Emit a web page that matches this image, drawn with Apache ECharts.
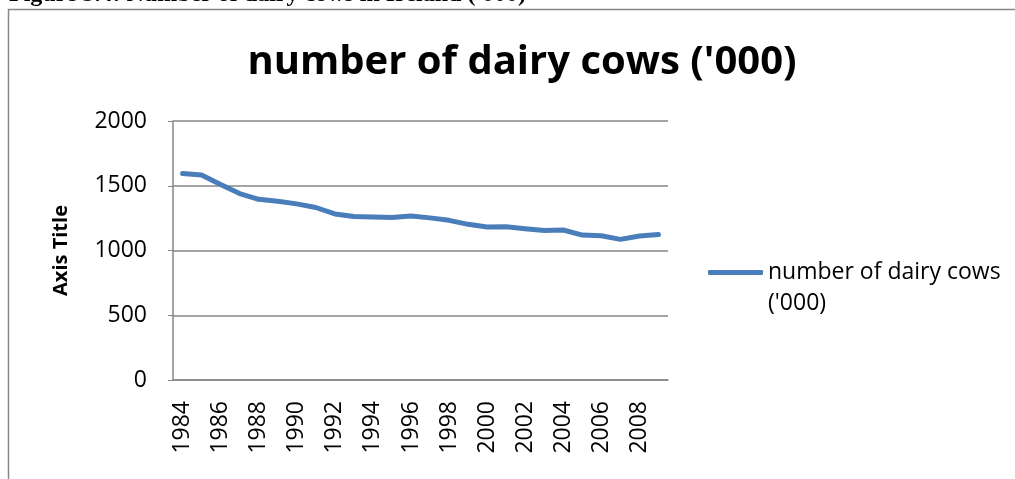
<!DOCTYPE html>
<html>
<head>
<meta charset="utf-8">
<title>number of dairy cows ('000)</title>
<script src="https://cdn.jsdelivr.net/npm/echarts@6/dist/echarts.min.js"></script>
<style>
  html, body { margin: 0; padding: 0; background: #fff; }
  #chart { width: 1015px; height: 479px; }
</style>
</head>
<body>
<div id="chart"></div>
<script>
// dairy cows in Ireland, thousands
const years = ['1984', '1985', '1986', '1987', '1988', '1989', '1990', '1991', '1992',
  '1993', '1994', '1995', '1996', '1997', '1998', '1999', '2000', '2001', '2002',
  '2003', '2004', '2005', '2006', '2007', '2008', '2009'];
const cows = [1595, 1583, 1510, 1440, 1395, 1380, 1360, 1332, 1282,
  1262, 1258, 1254, 1267, 1252, 1233, 1202, 1181, 1184, 1168,
  1155, 1158, 1119, 1114, 1086, 1112, 1124];
const yTicks = [0, 500, 1000, 1500, 2000];

const seriesName = "number of dairy cows ('000)";
const blue = '#4A7EBB';
const grey = '#878787';
const font = '"Open Sans", sans-serif';

const chart = echarts.init(document.getElementById('chart'), null, { renderer: 'canvas' });

const option = {
  animation: false,
  backgroundColor: '#fff',
  title: {
    text: seriesName,
    left: 517,
    top: 38,
    textAlign: 'center',
    textStyle: {
      fontFamily: font,
      fontWeight: 'bold',
      fontSize: 40,
      color: '#000',
    },
  },
  graphic: [{
    type: 'rect',
    shape: { x: 8.5, y: 9.5, width: 1100, height: 600 },
    style: { fill: 'none', stroke: grey, lineWidth: 1.5 },
    silent: true,
  }, {
    type: 'text',
    x: 9,
    y: -5,
    style: {
      text: "Figure 3.4: Number of dairy cows in Ireland ('000)",
      font: 'bold 24px "Liberation Serif", serif',
      fill: '#000',
      verticalAlign: 'middle',
    },
    silent: true,
  }],
  legend: {
    data: [seriesName],
    left: 708,
    top: 226,
    padding: 0,
    icon: 'roundRect',
    itemWidth: 55,
    itemHeight: 5,
    // empty first line keeps the icon level with the first text line
    formatter: () => "\nnumber of dairy cows\n('000)",
    textStyle: {
      fontFamily: font,
      fontSize: 23,
      color: '#000',
      lineHeight: 31,
    },
  },
  grid: {
    left: 173,
    right: 347,
    top: 121,
    bottom: 99,
  },
  xAxis: {
    type: 'category',
    boundaryGap: true,
    data: years,
    axisLine: { lineStyle: { color: grey, width: 1.5 } },
    axisTick: { show: false },
    axisLabel: {
      interval: 1,
      rotate: 90,
      margin: 21,
      fontFamily: font,
      fontSize: 23,
      color: '#000',
    },
  },
  yAxis: {
    type: 'value',
    min: yTicks[0],
    max: yTicks[yTicks.length - 1],
    interval: yTicks[1] - yTicks[0],
    name: 'Axis Title',
    nameLocation: 'middle',
    nameRotate: 90,
    nameGap: 102,
    nameTextStyle: {
      fontFamily: font,
      fontWeight: 'bold',
      fontSize: 20,
      color: '#000',
    },
    axisLine: { show: true, lineStyle: { color: grey, width: 1.5 } },
    axisTick: { show: true, length: 5, lineStyle: { color: grey } },
    axisLabel: {
      margin: 26,
      formatter: (v) => String(v),
      fontFamily: font,
      fontSize: 23,
      color: '#000',
    },
    splitLine: { lineStyle: { color: grey, width: 1.5 } },
  },
  series: [{
    name: seriesName,
    type: 'line',
    data: cows,
    symbol: 'none',
    color: blue,
    lineStyle: { width: 5, color: blue, cap: 'round', join: 'round' },
  }],
};

chart.setOption(option);
</script>
</body>
</html>
